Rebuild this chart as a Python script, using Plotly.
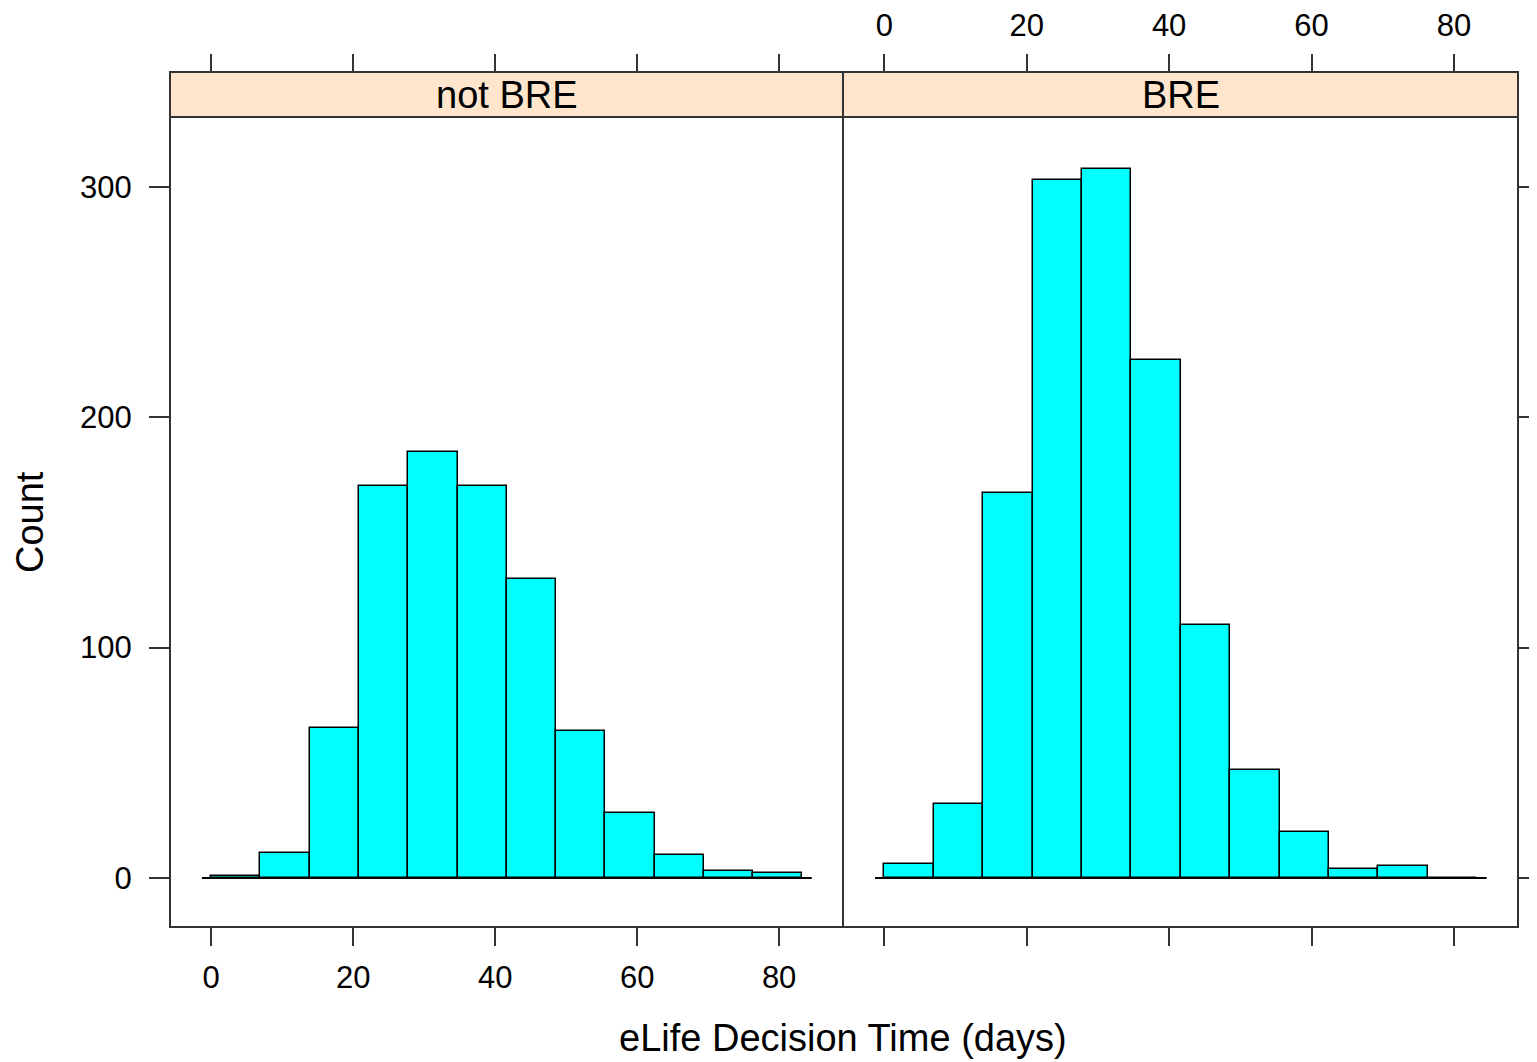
import plotly.graph_objects as go

# ---- data ----
bin_width = 6.94
bin_starts = [round(i * bin_width, 3) for i in range(12)]
counts_not_bre = [1, 11, 65, 170, 185, 170, 130, 64, 28, 10, 3, 2]
counts_bre = [6, 32, 167, 303, 308, 225, 110, 47, 20, 4, 5, 0]
panels = ["not BRE", "BRE"]
x_ticks = [0, 20, 40, 60, 80]
y_ticks = [0, 100, 200, 300]
baseline_x = [-1.3, 84.6]

FONT = "Liberation Sans, Arial, Helvetica, sans-serif"
# page body has an 8px default margin; figure sized so the plot lands in place
W, H = 1529, 1054
ML, MR, MT, MB = 162, 19, 64, 135
PW = W - ML - MR
PH = H - MT - MB
split = 673 / PW
ytop = 810 / PH
XR = [-5.8, 89.0]
YR = [-21.3, 330.4]
LINE = "#333333"

centers = [s + bin_width / 2 for s in bin_starts]

fig = go.Figure()
for i, cnts in enumerate([counts_not_bre, counts_bre]):
    xa = "x" if i == 0 else "x2"
    fig.add_trace(go.Bar(
        x=centers, y=cnts, width=[bin_width] * len(cnts),
        marker=dict(color="#00FFFF", line=dict(color="black", width=1.5)),
        xaxis=xa, yaxis="y", showlegend=False, hoverinfo="x+y"))
    fig.add_trace(go.Scatter(
        x=baseline_x, y=[0, 0], mode="lines",
        line=dict(color="black", width=2), xaxis=xa, yaxis="y",
        showlegend=False, hoverinfo="skip"))

tickfont = dict(family=FONT, size=31, color="black")
common_x = dict(range=XR, tickvals=x_ticks, ticks="outside", ticklen=18,
                tickwidth=2, tickcolor=LINE, showgrid=False, zeroline=False,
                showline=False, tickfont=tickfont, fixedrange=True,
                automargin=False)

fig.update_layout(
    width=W, height=H,
    margin=dict(l=ML, r=MR, t=MT, b=MB, pad=0, autoexpand=False),
    paper_bgcolor="white", plot_bgcolor="white",
    bargap=0, barmode="overlay",
    xaxis=dict(domain=[0, split], anchor="y", showticklabels=True,
               ticklabelstandoff=5, **common_x),
    xaxis2=dict(domain=[split, 1], anchor="y", showticklabels=False, **common_x),
    xaxis3=dict(overlaying="x", side="top", anchor="free", position=1,
                showticklabels=False, **common_x),
    xaxis4=dict(overlaying="x2", side="top", anchor="free", position=1,
                showticklabels=True, ticklabelstandoff=6, **common_x),
    yaxis=dict(domain=[0, ytop], range=YR, anchor="x", tickvals=y_ticks,
               ticks="outside", ticklen=20, tickwidth=2, tickcolor=LINE,
               showgrid=False, zeroline=False, showline=False,
               tickfont=tickfont, ticklabelstandoff=11, fixedrange=True,
               automargin=False),
    yaxis2=dict(overlaying="y", side="right", anchor="free", position=1,
                range=YR, tickvals=y_ticks, ticks="outside", ticklen=18,
                tickwidth=2, tickcolor=LINE, showgrid=False, zeroline=False,
                showline=False, showticklabels=False, fixedrange=True,
                automargin=False),
)

# dummy traces so the overlaying axes render
fig.add_trace(go.Scatter(x=[None], y=[None], xaxis="x3", yaxis="y", showlegend=False))
fig.add_trace(go.Scatter(x=[None], y=[None], xaxis="x4", yaxis="y", showlegend=False))
fig.add_trace(go.Scatter(x=[None], y=[None], xaxis="x", yaxis="y2", showlegend=False))

shapes = []
# strips
for x0, x1 in [(0, split), (split, 1)]:
    shapes.append(dict(type="rect", xref="paper", yref="paper", x0=x0, x1=x1,
                       y0=ytop, y1=1, fillcolor="#FFE5CC",
                       line=dict(color=LINE, width=2), layer="below"))
# outer frame and divider
shapes.append(dict(type="rect", xref="paper", yref="paper", x0=0, x1=1, y0=0, y1=1,
                   line=dict(color=LINE, width=2)))
shapes.append(dict(type="line", xref="paper", yref="paper", x0=split, x1=split,
                   y0=0, y1=1, line=dict(color=LINE, width=2)))
fig.update_layout(shapes=shapes)

ann = []
for name, (x0, x1) in zip(panels, [(0, split), (split, 1)]):
    ann.append(dict(text=name, xref="paper", yref="paper", x=(x0 + x1) / 2,
                    y=(ytop + 1) / 2, showarrow=False, xanchor="center",
                    yanchor="middle",
                    font=dict(family=FONT, size=38, color="black")))
ann.append(dict(text="eLife Decision Time (days)", xref="paper", yref="paper",
                x=split, y=(919 - 1030) / PH, showarrow=False, xanchor="center",
                yanchor="middle", font=dict(family=FONT, size=38, color="black")))
ann.append(dict(text="Count", xref="paper", yref="paper",
                x=(22 - ML) / PW, y=(919 - 514) / PH, showarrow=False,
                textangle=-90, xanchor="center", yanchor="middle",
                font=dict(family=FONT, size=38, color="black")))
fig.update_layout(annotations=ann)

fig.write_html("out.html")
